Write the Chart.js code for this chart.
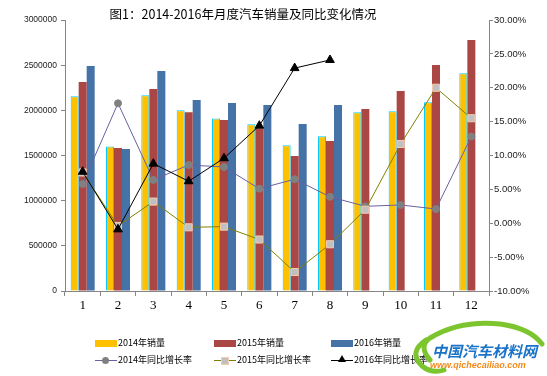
<!DOCTYPE html>
<html>
<head>
<meta charset="utf-8">
<script src="https://cdn.jsdelivr.net/npm/chart.js@4"></script>
<style>
  body { margin: 0; background: #fff; }
  #wrap { position: relative; width: 547px; height: 376px; overflow: hidden; font-family: "Noto Sans CJK SC", sans-serif; }
  #c { position: absolute; left: 0; top: 0; }
  #title { position: absolute; left: 0; width: 486px; top: 4px; text-align: center; font-size: 12.5px; color: #000; }
  .lg { position: absolute; font-size: 9px; color: #000; line-height: 10px; white-space: nowrap; }
  .sw { position: absolute; width: 22px; height: 7px; }
  .ln { position: absolute; width: 22px; height: 1px; }
  .mk { position: absolute; }
  #logo { position: absolute; left: 400px; top: 318px; width: 147px; height: 58px; }
  #logo .cn { position: absolute; left: 32px; top: 22px; font-size: 15px; font-weight: bold; font-style: italic; color: #1a73c9; letter-spacing: 0px; }
  #logo .url { position: absolute; left: 30px; top: 42px; font-size: 9px; font-weight: bold; font-style: italic; color: #f08a1c; font-family: "Liberation Sans", sans-serif; }
</style>
</head>
<body>
<div id="wrap">
  <canvas id="c" width="547" height="376"></canvas>
  <div id="title">图1：2014-2016年月度汽车销量及同比变化情况</div>

  <div class="sw" style="left:95px;top:340px;background:#FFC000"></div>
  <div class="lg" style="left:118px;top:338px">2014年销量</div>
  <div class="sw" style="left:214px;top:340px;background:#AA4643"></div>
  <div class="lg" style="left:237px;top:338px">2015年销量</div>
  <div class="sw" style="left:331px;top:340px;background:#4572A7"></div>
  <div class="lg" style="left:354px;top:338px">2016年销量</div>

  <div class="ln" style="left:95px;top:360px;background:#6A5FA0"></div>
  <div class="mk" style="left:102px;top:357px;width:7px;height:7px;border-radius:50%;background:#808080"></div>
  <div class="lg" style="left:118px;top:355px">2014年同比增长率</div>
  <div class="ln" style="left:214px;top:360px;background:#808000"></div>
  <div class="mk" style="left:221px;top:357px;width:6px;height:6px;background:#C0C0C0;border:1px solid #F8CBAD"></div>
  <div class="lg" style="left:237px;top:355px">2015年同比增长率</div>
  <div class="ln" style="left:331px;top:360px;background:#000"></div>
  <div class="mk" style="left:338px;top:355px;width:0;height:0;border-left:4px solid transparent;border-right:4px solid transparent;border-bottom:7px solid #000"></div>
  <div class="lg" style="left:354px;top:355px">2016年同比增长率</div>

  <div id="logo">
    <svg width="147" height="58" style="position:absolute;left:0;top:0">
      <path d="M 30 42 Q 18 28 30 20 Q 60 2 100 6 Q 130 10 142 26" fill="none" stroke="#7dc52e" stroke-width="5" stroke-linecap="round"/>
      <path d="M 26 22 Q 8 34 22 48 Q 32 56 44 52" fill="none" stroke="#7dc52e" stroke-width="5" stroke-linecap="round"/>
    </svg>
    <div class="cn">中国汽车材料网</div>
    <div class="url">www.qichecailiao.com</div>
  </div>
</div>
<script>
const months = ['1', '2', '3', '4', '5', '6', '7', '8', '9', '10', '11', '12'];
const sales2014 = [2155000, 1600000, 2166000, 2000000, 1910000, 1845000, 1613000, 1712000, 1978000, 1990000, 2089000, 2410000];
const sales2015 = [2314000, 1583000, 2236000, 1980000, 1893000, 1797000, 1494000, 1660000, 2015000, 2214000, 2502000, 2779000];
const sales2016 = [2490000, 1572000, 2435000, 2114000, 2081000, 2060000, 1849000, 2060000, null, null, null, null];
const growth2014 = [5.8, 17.7, 6.4, 8.6, 8.3, 5.1, 6.5, 3.9, 2.5, 2.7, 2.1, 12.8];
const growth2015 = [7.5, -0.4, 3.2, -0.6, -0.5, -2.4, -7.2, -3.1, 2.0, 11.7, 20.0, 15.5];
const growth2016 = [7.6, -0.9, 8.8, 6.2, 9.6, 14.4, 22.9, 24.1, null, null, null, null];

const axisGrey = '#868686';

new Chart(document.getElementById('c'), {
    type: 'bar',
    data: {
        labels: months,
        datasets: [
            {
                label: '2014年同比增长率', type: 'line', data: growth2014, yAxisID: 'y1', order: 2,
                borderColor: '#6A5FA0', borderWidth: 1, pointStyle: 'circle', pointRadius: 3.5,
                pointBackgroundColor: '#808080', pointBorderColor: '#808080', tension: 0,
            },
            {
                label: '2015年同比增长率', type: 'line', data: growth2015, yAxisID: 'y1', order: 1,
                borderColor: '#808000', borderWidth: 1, pointStyle: 'rect', pointRadius: 5,
                pointBackgroundColor: '#C0C0C0', pointBorderColor: '#F8CBAD', pointBorderWidth: 1, tension: 0,
            },
            {
                label: '2016年同比增长率', type: 'line', data: growth2016, yAxisID: 'y1', order: 0,
                borderColor: '#000000', borderWidth: 1, pointStyle: 'triangle', pointRadius: 5,
                pointBackgroundColor: '#000000', pointBorderColor: '#000000', tension: 0,
            },
            {
                label: '2014年销量', data: sales2014, yAxisID: 'y', order: 3,
                backgroundColor: '#FFC000', borderColor: '#00CCFF', borderWidth: 1,
            },
            {
                label: '2015年销量', data: sales2015, yAxisID: 'y', order: 3,
                backgroundColor: '#AA4643', borderWidth: 0,
            },
            {
                label: '2016年销量', data: sales2016, yAxisID: 'y', order: 3,
                backgroundColor: '#4572A7', borderWidth: 0,
            },
        ],
    },
    options: {
        responsive: false,
        animation: false,
        datasets: { bar: { categoryPercentage: 0.68, barPercentage: 1.0 } },
        layout: { padding: { top: 20, left: 0, right: 0, bottom: 0 } },
        plugins: { legend: { display: false }, tooltip: { enabled: false } },
        scales: {
            x: {
                afterFit: (s) => { s.height = 85; },
                grid: { drawOnChartArea: false, offset: true, tickLength: 5, color: axisGrey },
                border: { color: axisGrey },
                ticks: { color: '#000', padding: 2, font: { family: 'Liberation Serif', size: 13 } },
            },
            y: {
                position: 'left',
                min: 0, max: 3000000,
                afterFit: (s) => { s.width = 65; },
                grid: { drawOnChartArea: false, tickLength: 4, color: axisGrey },
                border: { color: axisGrey },
                ticks: { stepSize: 500000, color: '#222', padding: 4, font: { family: 'Liberation Sans', size: 8.5 },
                    callback: (v) => String(v) },
            },
            y1: {
                position: 'right',
                min: -10, max: 30,
                afterFit: (s) => { s.width = 58; },
                grid: { drawOnChartArea: false, tickLength: 4, color: axisGrey },
                border: { color: axisGrey },
                ticks: { stepSize: 5, color: '#222', padding: 1, font: { family: 'Liberation Sans', size: 9.5 },
                    callback: (v) => v.toFixed(2) + '%' },
            },
        },
    },
});
</script>
</body>
</html>
